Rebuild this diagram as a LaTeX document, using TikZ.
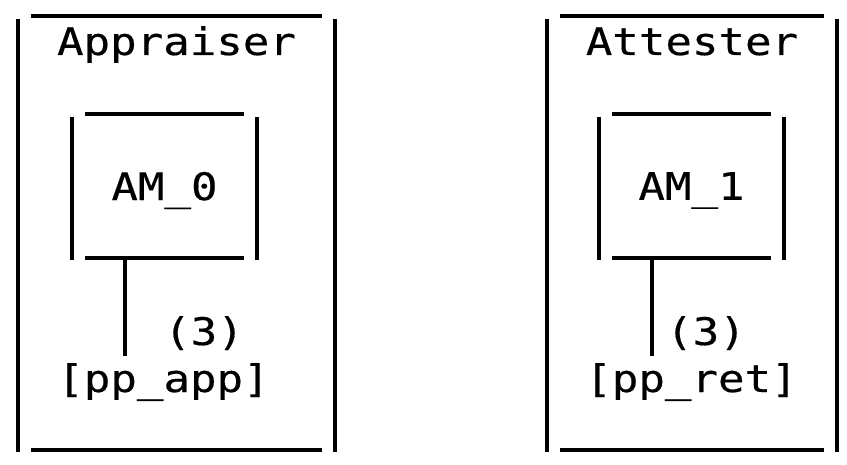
\documentclass[tikz,border=0pt]{standalone}
\usepackage{fontspec}
\newfontfamily\asciifont[FakeStretch=1.16,FakeBold=0.4]{DejaVu Sans Mono}

\tikzset{
	frame/.style={line width=3.6pt},
	boxnode/.style 2 args={inner sep=0pt, minimum width=#1, minimum height=#2},
	asciitext/.style={font=\asciifont\fontsize{38}{45}\selectfont, inner sep=0pt}
}

% box drawn side by side, corners left open
\newcommand{\gapbox}[1]{
	\draw[frame] ([yshift=-3.5pt]#1.north west) -- ([yshift=-1.5pt]#1.south west);
	\draw[frame] ([yshift=-3.5pt]#1.north east) -- ([yshift=-1.5pt]#1.south east);
	\draw[frame] ([xshift=13.5pt]#1.north west) -- ([xshift=-13.5pt]#1.north east);
	\draw[frame] ([xshift=13.5pt]#1.south west) -- ([xshift=-13.5pt]#1.south east);
}

\begin{document}
\begin{tikzpicture}[x=1pt,y=-1pt]
	\useasboundingbox (0,0) rectangle (847,465);
	
	%% appraiser
	\node[boxnode={317pt}{434pt}] (appbox) at (176.5,233) {};
	\node[asciitext, anchor=base] (appname) at (176.5,55) {Appraiser};
	\node[boxnode={185pt}{144pt}, asciitext, text depth=0pt] (am0) at (164.5,186) {AM\_0};
	\node[asciitext, anchor=base] (cnt0) at (204,345) {(3)};
	\node[asciitext, anchor=base] (ppapp) at (163.5,392) {[pp\_app]};
	\coordinate (tap0) at (125,356);
	\gapbox{appbox}
	\gapbox{am0}
	\draw[frame] (am0.south -| tap0) -- (tap0);
	
	%% attester
	\node[boxnode={290pt}{434pt}] (attbox) at (692,233) {};
	\node[asciitext, anchor=base] (attname) at (692,55) {Attester};
	\node[boxnode={185pt}{144pt}, asciitext, text depth=0pt] (am1) at (691.5,186) {AM\_1};
	\node[asciitext, anchor=base] (cnt1) at (706,345) {(3)};
	\node[asciitext, anchor=base] (ppret) at (691.5,392) {[pp\_ret]};
	\coordinate (tap1) at (652,356);
	\gapbox{attbox}
	\gapbox{am1}
	\draw[frame] (am1.south -| tap1) -- (tap1);
\end{tikzpicture}
\end{document}
